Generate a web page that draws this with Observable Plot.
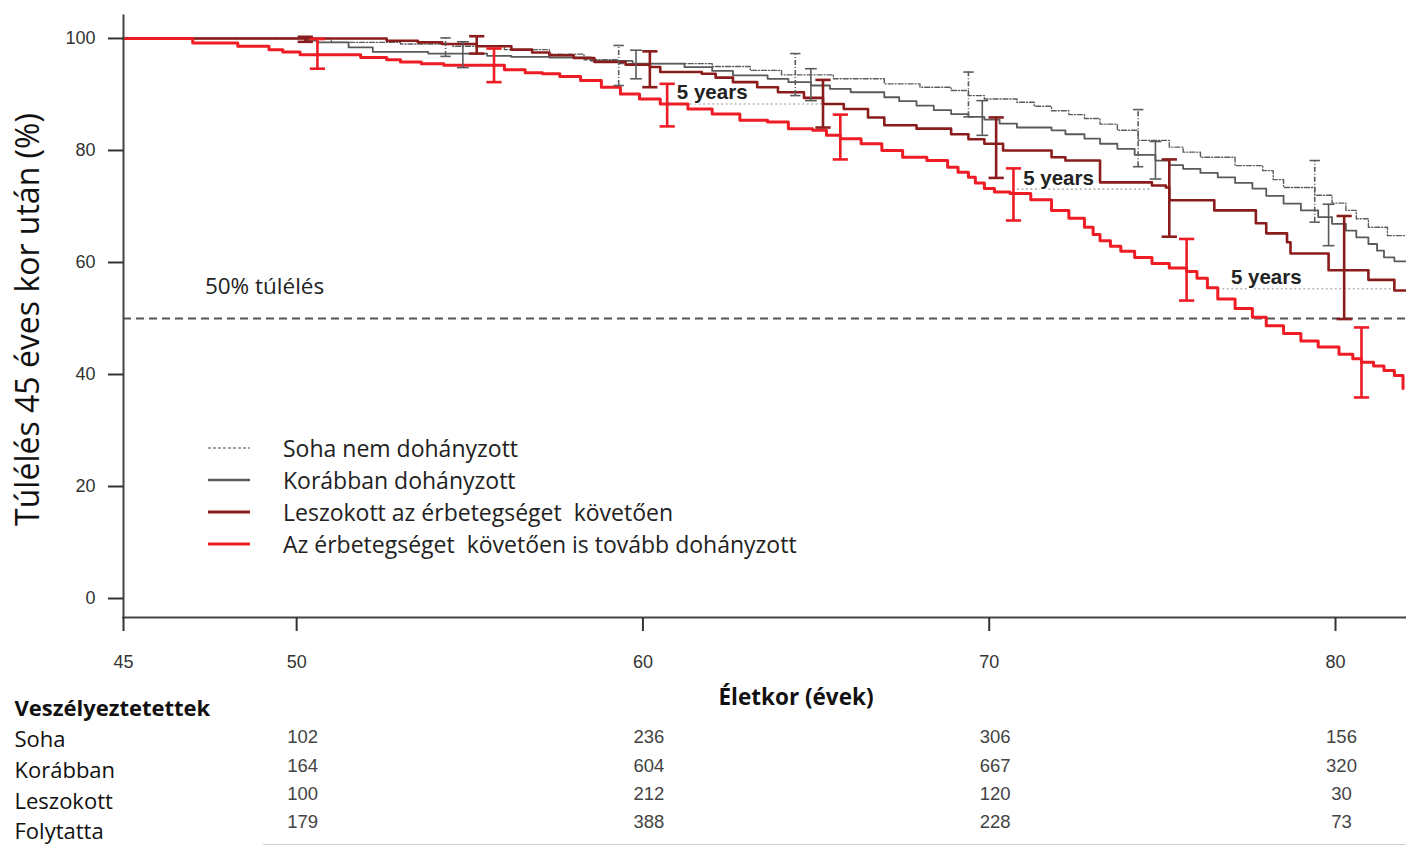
<!DOCTYPE html>
<html>
<head>
<meta charset="utf-8">
<script src="https://cdn.jsdelivr.net/npm/d3@7"></script>
<script src="https://cdn.jsdelivr.net/npm/@observablehq/plot@0.6"></script>
<style>
  body { margin: 0; background: #fff; }
  #wrap { position: relative; width: 1406px; height: 848px; overflow: hidden; }
  #legend { position: absolute; left: 208px; top: 432px; font-family: "Open Sans", sans-serif; font-size: 23px; color: #222; }
  #legend .row { height: 32px; display: flex; align-items: center; white-space: pre; }
  #legend .row svg { width: 42px; height: 10px; margin-right: 33px; flex: none; }
  #bottomline { position: absolute; left: 263px; top: 844px; width: 1143px; height: 1px; background: #cfcfcf; }
</style>
</head>
<body>
<div id="wrap"><div id="chart"></div><div id="legend"></div><div id="bottomline"></div></div>
<script>
// ---------- data ----------
const seriesNames = ["Soha nem dohányzott", "Korábban dohányzott", "Leszokott az érbetegséget  követően", "Az érbetegséget  követően is tovább dohányzott"];
const seriesColors = ["#5c5c5c", "#5a5a5a", "#8b1c1c", "#ee1c24"];

// Kaplan-Meier step points (age, survival %)
const ageSoha  = [45, 51.0, 53.0, 54.5, 56.0, 57.3, 58.3, 59.3, 62.0, 63.1, 64.0, 65.5, 66.97, 68.0, 68.9, 69.4, 69.86, 70.8, 71.3, 71.8, 72.3, 72.75, 73.2, 73.7, 74.3, 75.2, 75.6, 76.1, 77.1, 77.9, 78.2, 78.5, 79.4, 79.9, 80.3, 80.6, 80.95, 81.5, 82.1];
const survSoha = [100, 99.3, 99.0, 98.6, 98.0, 97.2, 96.2, 95.5, 95.0, 94.3, 93.5, 92.8, 91.9, 91.3, 90.7, 89.8, 89.2, 88.6, 87.9, 87.1, 86.4, 85.7, 84.7, 83.6, 81.8, 80.6, 79.7, 78.8, 77.3, 76.4, 74.8, 73.4, 72.0, 70.6, 69.3, 67.8, 66.3, 64.8, 63.4];

const ageKorabban  = [45, 50.3, 50.6, 51.5, 52.2, 53.8, 55.5, 56.2, 57.3, 58.5, 59.7, 61.2, 62.0, 62.6, 63.6, 64.2, 64.85, 65.4, 66.0, 66.97, 67.4, 67.9, 68.4, 68.9, 69.4, 69.86, 70.3, 70.8, 71.8, 72.2, 72.75, 73.2, 73.7, 74.2, 74.8, 75.2, 75.6, 76.1, 76.6, 77.1, 77.6, 78.0, 78.5, 79.0, 79.5, 79.9, 80.3, 80.6, 80.95, 81.2, 81.4, 81.7, 82.1];
const survKorabban = [100, 99.6, 99.3, 98.4, 97.6, 97.3, 96.9, 96.7, 96.6, 96.0, 95.5, 94.9, 94.2, 93.4, 92.8, 92.2, 91.6, 91.0, 90.4, 89.5, 88.8, 88.0, 87.2, 86.5, 86.0, 85.5, 84.8, 84.1, 83.6, 82.9, 82.1, 81.2, 80.3, 79.2, 78.2, 77.4, 76.7, 76.0, 75.2, 74.2, 73.2, 71.9, 70.5, 69.3, 68.1, 66.9, 65.7, 64.5, 63.3, 62.1, 60.9, 60.2, 59.5];

const ageLeszokott  = [45, 52.6, 53.5, 54.2, 55.2, 56.2, 56.8, 57.3, 58.0, 58.6, 59.5, 60.2, 60.5, 61.7, 62.1, 62.6, 63.3, 63.9, 64.65, 65.2, 65.8, 66.5, 66.97, 67.9, 68.9, 69.4, 69.86, 70.4, 71.8, 72.2, 73.2, 74.7, 75.1, 75.2, 76.5, 77.7, 78.0, 78.6, 78.7, 79.8, 80.95, 81.7, 82.1];
const survLeszokott = [100, 99.6, 99.3, 99.0, 98.6, 98.0, 97.5, 97.0, 96.5, 95.8, 95.3, 94.9, 94.0, 93.7, 93.0, 92.2, 91.3, 90.4, 89.4, 88.3, 87.4, 85.9, 84.5, 83.9, 82.9, 82.0, 81.2, 80.0, 78.8, 78.2, 74.3, 73.75, 73.4, 71.1, 69.3, 67.0, 65.2, 63.6, 61.6, 58.6, 56.9, 55.0, 55.0];

const ageFolytatta  = [45, 47.0, 48.3, 49.2, 49.6, 50.1, 51.85, 52.6, 53.0, 53.6, 54.25, 56.0, 56.6, 57.1, 57.6, 58.2, 58.8, 59.35, 59.9, 60.5, 61.3, 62.0, 62.8, 63.6, 64.2, 64.9, 65.3, 65.7, 66.3, 66.9, 67.5, 68.2, 68.8, 69.1, 69.4, 69.6, 69.86, 70.15, 70.6, 71.2, 71.8, 72.3, 72.75, 73.0, 73.2, 73.5, 73.8, 74.2, 74.7, 75.2, 75.7, 76.0, 76.3, 76.6, 77.1, 77.6, 78.0, 78.5, 79.0, 79.5, 80.1, 80.5, 80.75, 81.1, 81.4, 81.7, 81.95];
const survFolytatta = [100, 99.2, 98.6, 98.0, 97.6, 97.1, 96.6, 96.2, 95.8, 95.5, 95.2, 94.4, 93.9, 93.7, 93.2, 92.5, 91.3, 90.1, 89.2, 88.3, 87.4, 86.5, 85.4, 85.1, 83.9, 83.6, 82.7, 82.1, 81.2, 80.0, 78.8, 78.2, 77.0, 76.1, 75.2, 74.2, 73.2, 72.6, 72.3, 71.2, 69.3, 67.9, 66.3, 65.0, 63.9, 62.9, 62.0, 60.9, 59.8, 59.0, 58.4, 57.2, 55.5, 53.5, 51.8, 50.2, 48.7, 47.3, 46.0, 44.9, 43.6, 42.8, 42.2, 41.5, 40.7, 39.8, 37.5];

// confidence intervals (age, low, high)
const ciAgeSoha = [54.3, 59.3, 64.4, 69.4, 74.3, 79.4];
const ciLoSoha  = [96.8, 91.6, 89.8, 86.0, 77.1, 67.2];
const ciHiSoha  = [100.1, 98.75, 97.3, 94.0, 87.3, 78.2];

const ciAgeKorabban = [54.8, 59.8, 64.85, 69.8, 74.8, 79.8];
const ciLoKorabban  = [94.8, 92.8, 88.9, 82.7, 74.9, 63.0];
const ciHiKorabban  = [99.4, 97.9, 94.6, 88.9, 81.6, 70.4];

const ciAgeLeszokott = [50.25, 55.2, 60.2, 65.2, 70.2, 75.2, 80.25];
const ciLoLeszokott  = [99.4, 97.3, 91.3, 84.1, 75.1, 64.6, 49.9];
const ciHiLeszokott  = [100.3, 100.4, 97.7, 92.6, 85.9, 78.4, 68.3];

const ciAgeFolytatta = [50.6, 55.7, 60.7, 65.7, 70.7, 75.7, 80.75];
const ciLoFolytatta  = [94.6, 92.2, 84.3, 78.4, 67.5, 53.2, 35.9];
const ciHiFolytatta  = [99.9, 98.2, 91.9, 86.4, 76.8, 64.2, 48.4];

// "5 years" annotations
const fiveLabel = ["5 years", "5 years", "5 years"];
const fiveTextAge  = [62.0, 72.0, 78.0];
const fiveTextSurv = [90.4, 75.0, 57.3];
const fiveFrom = [60.7, 70.8, 76.6];
const fiveTo   = [65.3, 74.7, 81.7];
const fiveLevel = [88.3, 73.1, 55.3];

// risk table
const riskTitle = "Veszélyeztetettek";
const riskRowNames = ["Soha", "Korábban", "Leszokott", "Folytatta"];
const riskAges = [50, 60, 70, 80];
const riskSoha = [102, 236, 306, 156];
const riskKorabban = [164, 604, 667, 320];
const riskLeszokott = [100, 212, 120, 30];
const riskFolytatta = [179, 388, 228, 73];

const xTicks = [45, 50, 60, 70, 80];
const yTicks = [0, 20, 40, 60, 80, 100];

// ---------- build ----------
const mk = (ages, vals) => ages.map((a, i) => ({age: a, surv: vals[i]}));
const mkCI = (ages, lo, hi) => ages.map((a, i) => ({age: a, lo: lo[i], hi: hi[i]}));

const lines = [mk(ageSoha, survSoha), mk(ageKorabban, survKorabban), mk(ageLeszokott, survLeszokott), mk(ageFolytatta, survFolytatta)];
const cis = [mkCI(ciAgeSoha, ciLoSoha, ciHiSoha), mkCI(ciAgeKorabban, ciLoKorabban, ciHiKorabban), mkCI(ciAgeLeszokott, ciLoLeszokott, ciHiLeszokott), mkCI(ciAgeFolytatta, ciLoFolytatta, ciHiFolytatta)];
const widths = [1.4, 1.8, 2.6, 3.0];
const dashes = ["5,2,1,2", null, null, null];
const capHalf = [0.15, 0.17, 0.22, 0.22];

const fives = fiveLabel.map((t, i) => ({t, ta: fiveTextAge[i], ts: fiveTextSurv[i], a1: fiveFrom[i], a2: fiveTo[i], lvl: fiveLevel[i]}));
const riskSeries = [riskSoha, riskKorabban, riskLeszokott, riskFolytatta];

const marks = [];
marks.push(Plot.ruleY([50], {stroke: "#555", strokeWidth: 2, strokeDasharray: "8,5"}));
marks.push(Plot.text(["50% túlélés"], {x: 47.35, y: 55.6, textAnchor: "start", fontSize: 22.5, fontFamily: "Open Sans", fill: "#222"}));
// 5-year dotted guides
marks.push(Plot.link(fives, {x1: "a1", x2: "a2", y1: "lvl", y2: "lvl", stroke: "#b8b8b8", strokeWidth: 1.6, strokeDasharray: "2,2.5"}));

for (let s = 0; s < 4; s++) {
  marks.push(Plot.line(lines[s], {x: "age", y: "surv", curve: "step-after", stroke: seriesColors[s], strokeWidth: widths[s], strokeDasharray: dashes[s]}));
}
for (let s = 0; s < 4; s++) {
  const sw = s >= 2 ? 2.6 : 1.6;
  marks.push(Plot.ruleX(cis[s], {x: "age", y1: "lo", y2: "hi", stroke: seriesColors[s], strokeWidth: sw, strokeDasharray: dashes[s]}));
  marks.push(Plot.link(cis[s], {x1: d => d.age - capHalf[s], x2: d => d.age + capHalf[s], y1: "lo", y2: "lo", stroke: seriesColors[s], strokeWidth: sw}));
  marks.push(Plot.link(cis[s], {x1: d => d.age - capHalf[s], x2: d => d.age + capHalf[s], y1: "hi", y2: "hi", stroke: seriesColors[s], strokeWidth: sw}));
}
marks.push(Plot.text(fives, {x: "ta", y: "ts", text: "t", fontSize: 20.5, fontWeight: "bold", fontFamily: "Liberation Sans", fill: "#222", stroke: "white", strokeWidth: 3, paintOrder: "stroke"}));

// axes
marks.push(Plot.frame({anchor: "left", stroke: "#444", strokeWidth: 2}));
marks.push(Plot.frame({anchor: "bottom", stroke: "#444", strokeWidth: 2}));
marks.push(Plot.axisY({ticks: yTicks, tickSize: 15, tickPadding: 13, fontSize: 18, fontFamily: "Liberation Sans", color: "#333", strokeWidth: 2, label: null}));
marks.push(Plot.axisX({ticks: xTicks, tickSize: 14, tickPadding: 24, fontSize: 18, fontFamily: "Liberation Sans", color: "#333", strokeWidth: 2, label: null}));
marks.push(Plot.text(["Túlélés 45 éves kor után (%)"], {frameAnchor: "left", dx: -95, dy: 3, rotate: -90, textAnchor: "middle", lineAnchor: "middle", fontSize: 32, fontFamily: "Open Sans", fill: "#111"}));
marks.push(Plot.text(["Életkor (évek)"], {frameAnchor: "bottom", dx: 31, dy: 80, textAnchor: "middle", lineAnchor: "middle", fontSize: 22.5, fontWeight: "bold", fontFamily: "Open Sans", fill: "#111"}));

// risk table
marks.push(Plot.text([riskTitle], {frameAnchor: "bottom-left", dx: -109, dy: 91, textAnchor: "start", lineAnchor: "middle", fontSize: 22, fontWeight: "bold", fontFamily: "Open Sans", fill: "#111"}));
const rowLabelDy = [122, 153, 184, 214];
const rowNumDy = [120, 149, 177, 205];
for (let r = 0; r < 4; r++) {
  marks.push(Plot.text([riskRowNames[r]], {frameAnchor: "bottom-left", dx: -109, dy: rowLabelDy[r], textAnchor: "start", lineAnchor: "middle", fontSize: 22, fontFamily: "Open Sans", fill: "#111"}));
  marks.push(Plot.text(riskAges.map((a, i) => ({a, n: riskSeries[r][i]})), {x: "a", text: d => String(d.n), frameAnchor: "bottom", dx: 6, dy: rowNumDy[r], textAnchor: "middle", lineAnchor: "middle", fontSize: 18.5, fontFamily: "Liberation Sans", fill: "#444"}));
}

const chart = Plot.plot({
  width: 1406,
  height: 848,
  marginLeft: 123,
  marginRight: 0,
  marginTop: 15,
  marginBottom: 231,
  x: {domain: [45, 82.05]},
  y: {domain: [-3.39, 104.1]},
  style: {background: "white", overflow: "visible"},
  marks
});
document.getElementById("chart").appendChild(chart);

// legend
const legend = document.getElementById("legend");
seriesNames.forEach((name, s) => {
  const row = document.createElement("div");
  row.className = "row";
  const dash = dashes[s] ? ` stroke-dasharray="3,2"` : "";
  const w = s === 0 ? 1.4 : (s === 1 ? 2.4 : 3);
  row.innerHTML = `<svg viewBox="0 0 42 10"><line x1="0" y1="5" x2="42" y2="5" stroke="${s === 0 ? '#888' : seriesColors[s]}" stroke-width="${w}"${dash}/></svg><span>${name}</span>`;
  legend.appendChild(row);
});
</script>
</body>
</html>
